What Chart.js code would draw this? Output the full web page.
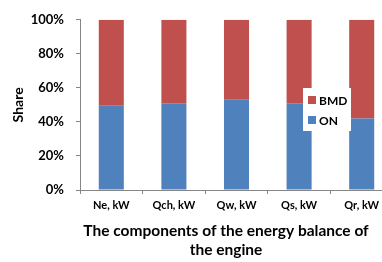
<!DOCTYPE html>
<html>
<head>
<meta charset="utf-8">
<script src="https://cdn.jsdelivr.net/npm/chart.js@4/dist/chart.umd.min.js"></script>
<style>
  html, body { margin:0; padding:0; background:#fff; overflow:hidden; }
  #wrap { width:393px; height:262px; }
</style>
</head>
<body>
<div id="wrap"><canvas id="chart_div" width="393" height="262"></canvas></div>
<script>
var categories = ["Ne, kW", "Qch, kW", "Qw, kW", "Qs, kW", "Qr, kW"];
var onValues = [49.5, 51, 53, 51, 42];
var bmdValues = [50.5, 49, 47, 49, 58];
var yTicks = [0, 20, 40, 60, 80, 100];
var xTitle = ["The components of the energy balance of", "the engine"];
var yTitle = "Share";

var fontFam = "Lato, 'Open Sans', sans-serif";
var axisGray = '#868686';

// legend sits inside the plot like in the excel chart
var innerLegend = {
  id: 'innerLegend',
  afterDraw: function(chart){
    var ctx = chart.ctx;
    var x = 303, y = 88;
    ctx.save();
    ctx.fillStyle = '#fff';
    ctx.fillRect(x, y, 48, 43);
    ctx.font = "bold 12px " + fontFam;
    ctx.textBaseline = 'middle';
    // top to bottom: last dataset first
    var ds = chart.data.datasets.slice().reverse();
    for(var i = 0; i < ds.length; ++i){
      var cy = y + 12 + i*20;
      ctx.fillStyle = ds[i].backgroundColor;
      ctx.fillRect(x + 5, cy - 4, 8, 8);
      ctx.fillStyle = '#000';
      ctx.fillText(ds[i].label, x + 16, cy + 1);
    }
    ctx.restore();
  }
};

// x title: plot runs past the picture edge, so centre it on the visible part
var xTitlePlugin = {
  id: 'xTitlePlugin',
  afterDraw: function(chart){
    var ctx = chart.ctx;
    var sx = chart.scales.x;
    ctx.save();
    ctx.font = "bold 15.5px " + fontFam;
    ctx.fillStyle = '#000';
    ctx.textAlign = 'center';
    ctx.textBaseline = 'middle';
    for(var i = 0; i < xTitle.length; ++i){
      ctx.fillText(xTitle[i], sx.left + 146, sx.top + 41 + i*19);
    }
    ctx.restore();
  }
};

var ctx = document.getElementById('chart_div').getContext('2d');
var chart = new Chart(ctx, {
  type: 'bar',
  data: {
    labels: categories,
    datasets: [{
      label: "ON",
      data: onValues,
      backgroundColor: '#4F81BD'
    },{
      label: "BMD",
      data: bmdValues,
      backgroundColor: '#C0504D'
    }]
  },
  options: {
    responsive: false,
    animation: false,
    devicePixelRatio: 1,
    layout: { padding: { top: 16, right: 0, bottom: 0, left: 0 } },
    categoryPercentage: 0.4,
    barPercentage: 1,
    plugins: {
      legend: { display: false },
      tooltip: { enabled: false }
    },
    scales: {
      x: {
        stacked: true,
        afterFit: function(s){ s.height = 72; },
        grid: { display: true, drawOnChartArea: false, color: axisGray, tickLength: 4, offset: true },
        border: { color: axisGray },
        ticks: { color: '#000', font: { family: fontFam, size: 11, weight: 'bold' }, padding: 5, maxRotation: 0 }
      },
      y: {
        stacked: true,
        min: 0,
        max: 100,
        afterFit: function(s){ s.width = 80; },
        afterBuildTicks: function(s){ s.ticks = yTicks.map(function(v){ return { value: v }; }); },
        grid: { display: true, drawOnChartArea: false, color: axisGray, tickLength: 4 },
        border: { color: axisGray },
        ticks: {
          color: '#000',
          font: { family: fontFam, size: 13, weight: 'bold' },
          padding: 12,
          callback: function(v){ return v + '%'; }
        },
        title: {
          display: true,
          text: yTitle,
          color: '#000',
          font: { family: fontFam, size: 14, weight: 'bold' },
          padding: { top: 10, bottom: 0 }
        }
      }
    }
  },
  plugins: [innerLegend, xTitlePlugin]
});
</script>
</body>
</html>
